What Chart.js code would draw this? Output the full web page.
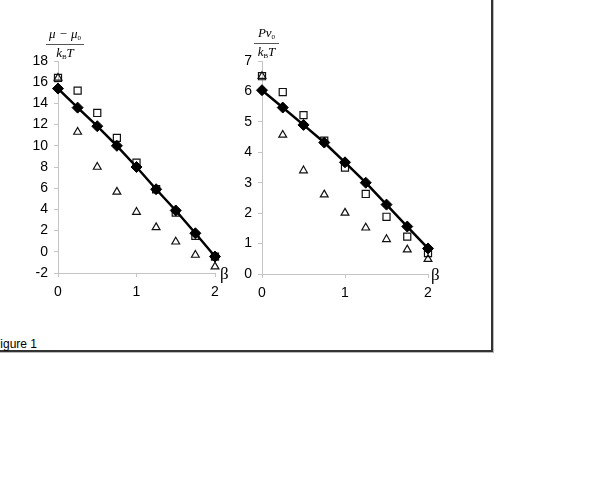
<!DOCTYPE html>
<html lang="en">
<head>
<meta charset="UTF-8">
<title>Figure 1</title>
<style>
  body { margin: 0; background: #fff; width: 593px; height: 479px; position: relative; overflow: hidden; }
  .box {
    position: absolute; left: -10px; top: -10px; width: 503px; height: 362px;
    box-sizing: border-box; border: 2px solid #333; box-shadow: 1px 1px 0 #bbb;
  }
  canvas { position: absolute; }
  .frac {
    position: absolute; font-family: "Liberation Serif", serif; font-style: italic;
    font-size: 13px; text-align: center; line-height: 12px;
  }
  .frac .den { border-top: 1px solid #555; padding-top: 2px; }
  .frac sub { font-size: 7px; vertical-align: -2px; font-style: normal; }
  .beta { position: absolute; font-family: "Liberation Serif", serif; font-size: 17px; line-height: 17px; }
  .caption { position: absolute; left: -7px; top: 337px; font-family: "Liberation Sans", Arial, sans-serif; font-size: 12px; }
</style>
</head>
<body>
  <div class="box"></div>

  <canvas id="muChart" width="240" height="320" style="left:0;top:0"></canvas>
  <canvas id="pvChart" width="213" height="320" style="left:240px;top:0"></canvas>

  <div class="frac" style="left:46px;top:28px;width:38px">
    <div>μ − μ<sub>0</sub></div>
    <div class="den">k<sub>B</sub>T</div>
  </div>
  <div class="frac" style="left:254px;top:27px;width:25px">
    <div>Pv<sub>0</sub></div>
    <div class="den">k<sub>B</sub>T</div>
  </div>

  <div class="beta" style="left:220px;top:265px">β</div>
  <div class="beta" style="left:431px;top:266px">β</div>

  <div class="caption">Figure 1</div>

  <script src="https://cdn.jsdelivr.net/npm/chart.js"></script>
  <script>
    // values
    const betaValues = [0, 0.25, 0.5, 0.75, 1, 1.25, 1.5, 1.75, 2];

    const muLine      = [15.4, 13.6, 11.85, 10.0, 8.0, 5.9, 3.9, 1.75, -0.45];
    const muSquares   = [16.4, 15.2, 13.1, 10.75, 8.4, 5.9, 3.7, 1.5, -0.45];
    const muTriangles = [16.4, 11.3, 8.0, 5.65, 3.75, 2.3, 0.95, -0.3, -1.4];

    const pvLine      = [6.04, 5.47, 4.9, 4.32, 3.67, 3.0, 2.28, 1.56, 0.84];
    const pvSquares   = [6.5, 5.98, 5.22, 4.38, 3.5, 2.63, 1.88, 1.23, 0.69];
    const pvTriangles = [6.5, 4.57, 3.4, 2.61, 2.01, 1.52, 1.14, 0.8, 0.49];

    const xTicks = [0, 1, 2];
    const muTicks = [-2, 0, 2, 4, 6, 8, 10, 12, 14, 16, 18];
    const pvTicks = [0, 1, 2, 3, 4, 5, 6, 7];

    function pts(ys) {
      return betaValues.map((x, i) => ({ x: x, y: ys[i] }));
    }

    function makeChart(id, lineVals, sqVals, triVals, yTicks, yWidth, pad) {
      const ctx = document.getElementById(id).getContext('2d');
      return new Chart(ctx, {
        type: 'scatter',
        data: {
          datasets: [
            {
              data: pts(lineVals), showLine: true, borderColor: '#000', borderWidth: 2.5,
              pointStyle: 'rectRot', pointRadius: 5.5, pointBackgroundColor: '#000',
              pointBorderColor: '#000', pointBorderWidth: 1, tension: 0, clip: false
            },
            {
              data: pts(sqVals), pointStyle: 'rect', pointRadius: 5, clip: false,
              pointBackgroundColor: 'rgba(0,0,0,0)', pointBorderColor: '#111', pointBorderWidth: 1.2
            },
            {
              data: pts(triVals), pointStyle: 'triangle', pointRadius: 4.5, clip: false,
              pointBackgroundColor: 'rgba(0,0,0,0)', pointBorderColor: '#111', pointBorderWidth: 1.2
            }
          ]
        },
        options: {
          responsive: false,
          animation: false,
          layout: { padding: pad },
          plugins: { legend: { display: false }, tooltip: { enabled: false } },
          scales: {
            x: {
              type: 'linear', min: xTicks[0], max: xTicks[xTicks.length - 1],
              afterBuildTicks: s => { s.ticks = xTicks.map(v => ({ value: v })); },
              afterFit: s => { s.height = 47; },
              grid: { display: true, drawOnChartArea: false, tickLength: 4, color: '#c4c4c4' },
              border: { color: '#c4c4c4', width: 1 },
              ticks: { color: '#000', padding: 7, font: { family: 'Liberation Sans', size: 14 } }
            },
            y: {
              type: 'linear', min: yTicks[0], max: yTicks[yTicks.length - 1],
              afterBuildTicks: s => { s.ticks = yTicks.map(v => ({ value: v })); },
              afterFit: s => { s.width = yWidth; },
              grid: { display: true, drawOnChartArea: false, tickLength: 4, color: '#c4c4c4' },
              border: { color: '#c4c4c4', width: 1 },
              ticks: { color: '#000', padding: 6, font: { family: 'Liberation Sans', size: 14 } }
            }
          }
        }
      });
    }

    makeChart('muChart', muLine, muSquares, muTriangles, muTicks, 58,
      { top: 61, left: 0, right: 25, bottom: 0 });
    makeChart('pvChart', pvLine, pvSquares, pvTriangles, pvTicks, 22,
      { top: 61, left: 0, right: 25, bottom: -1 });
  </script>
</body>
</html>
